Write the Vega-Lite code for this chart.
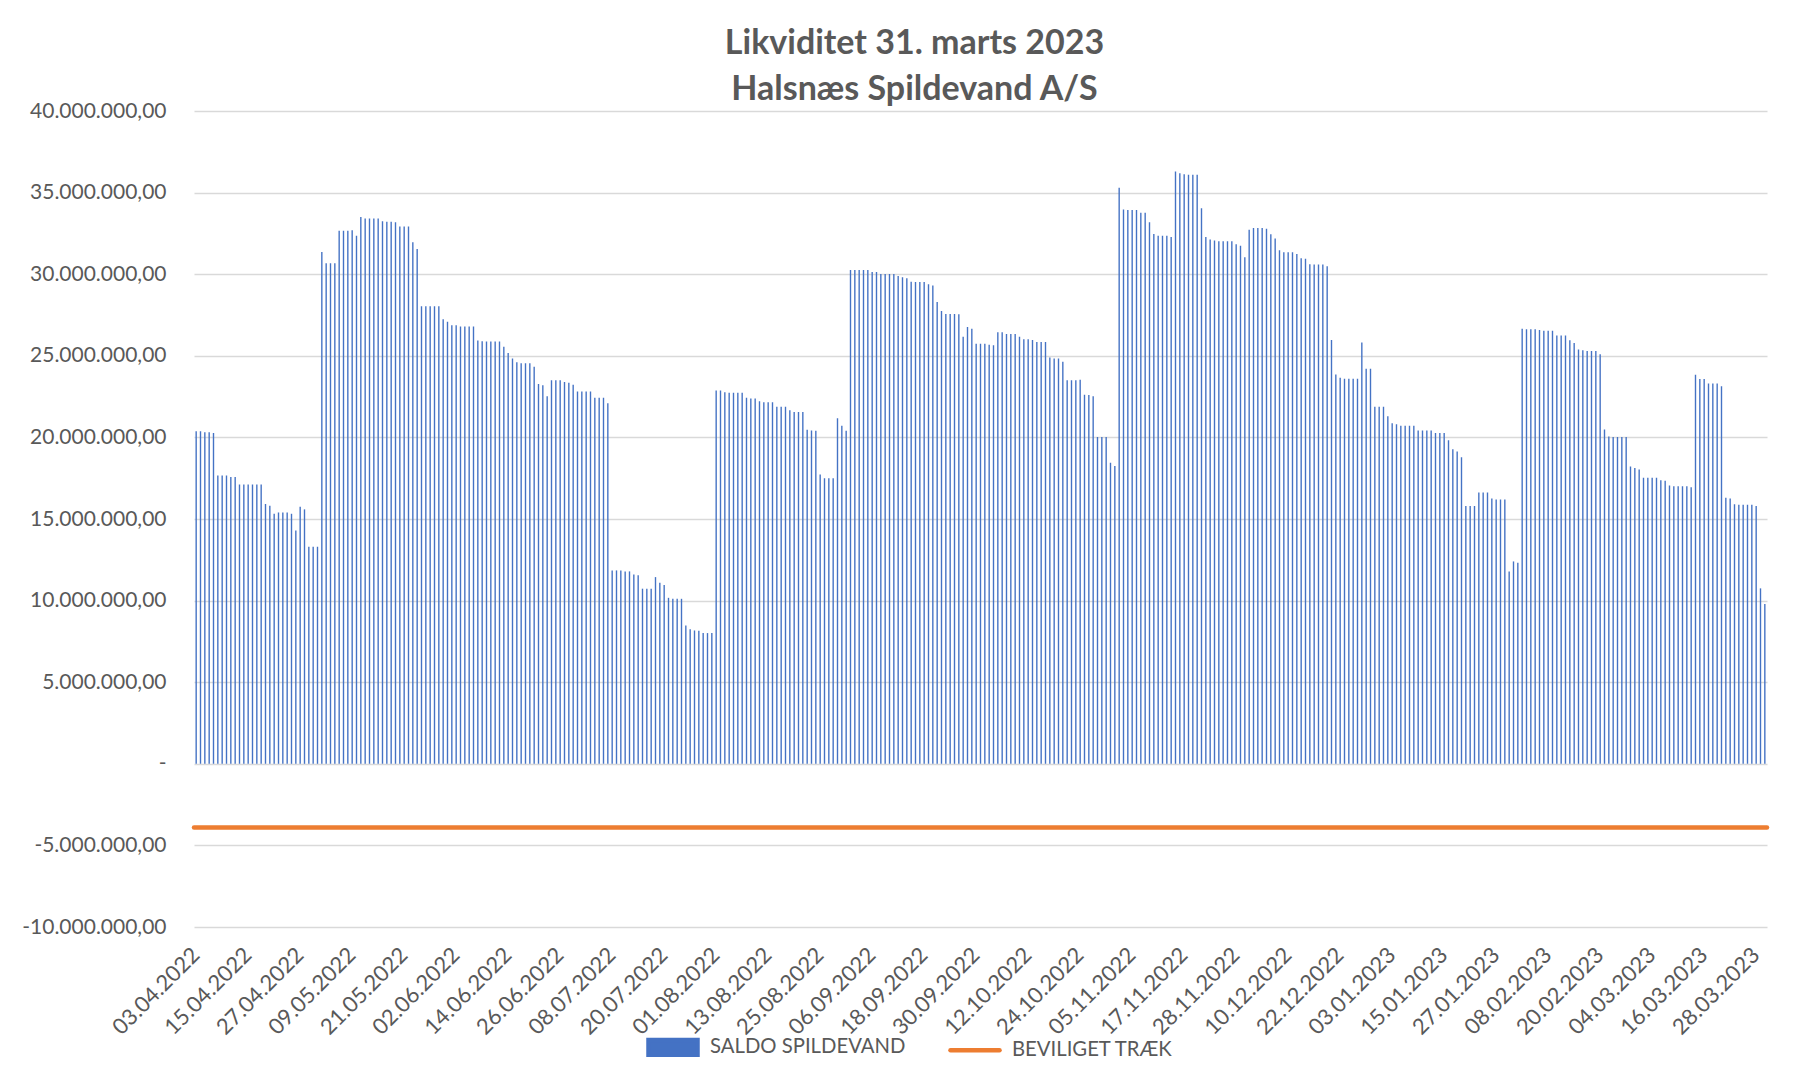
{
"$schema": "https://vega.github.io/schema/vega-lite/v6.json",
"width": 1573, "height": 816,
"autosize": {"type": "none"},
"padding": {"left": 194, "top": 111, "right": 26, "bottom": 154},
"background": "white",
"config": {
  "locale": {"number": {"decimal": ",", "thousands": ".", "grouping": [3], "currency": ["", ""], "minus": "-"}},
  "font": "Lato",
  "view": {"stroke": null},
  "axis": {"labelColor": "#595959", "labelFont": "Lato", "domain": false, "ticks": false, "gridColor": "#D9D9D9", "gridWidth": 1.3, "title": null}
},
"title": {"text": ["Likviditet 31. marts 2023", "Halsnæs Spildevand A/S"], "font": "Lato", "fontSize": 34, "fontWeight": "bold", "color": "#595959", "lineHeight": 46, "anchor": "middle", "frame": "group", "dx": -66, "offset": -7},
"datasets": {
"saldo": [
{"dato":"03.04.2022","saldo":20370000},{"dato":"04.04.2022","saldo":20370000},{"dato":"05.04.2022","saldo":20310000},{"dato":"06.04.2022","saldo":20310000},{"dato":"07.04.2022","saldo":20270000},{"dato":"08.04.2022","saldo":17670000},{"dato":"09.04.2022","saldo":17670000},{"dato":"10.04.2022","saldo":17670000},{"dato":"11.04.2022","saldo":17570000},{"dato":"12.04.2022","saldo":17570000},{"dato":"13.04.2022","saldo":17120000},{"dato":"14.04.2022","saldo":17120000},{"dato":"15.04.2022","saldo":17120000},{"dato":"16.04.2022","saldo":17120000},{"dato":"17.04.2022","saldo":17120000},{"dato":"18.04.2022","saldo":17120000},{"dato":"19.04.2022","saldo":15920000},{"dato":"20.04.2022","saldo":15810000},{"dato":"21.04.2022","saldo":15320000},{"dato":"22.04.2022","saldo":15400000},{"dato":"23.04.2022","saldo":15400000},{"dato":"24.04.2022","saldo":15400000},{"dato":"25.04.2022","saldo":15320000},{"dato":"26.04.2022","saldo":14300000},{"dato":"27.04.2022","saldo":15750000},{"dato":"28.04.2022","saldo":15590000},{"dato":"29.04.2022","saldo":13300000},{"dato":"30.04.2022","saldo":13300000},
{"dato":"01.05.2022","saldo":13300000},{"dato":"02.05.2022","saldo":31360000},{"dato":"03.05.2022","saldo":30670000},{"dato":"04.05.2022","saldo":30670000},{"dato":"05.05.2022","saldo":30670000},{"dato":"06.05.2022","saldo":32670000},{"dato":"07.05.2022","saldo":32670000},{"dato":"08.05.2022","saldo":32670000},{"dato":"09.05.2022","saldo":32690000},{"dato":"10.05.2022","saldo":32360000},{"dato":"11.05.2022","saldo":33510000},{"dato":"12.05.2022","saldo":33410000},{"dato":"13.05.2022","saldo":33410000},{"dato":"14.05.2022","saldo":33410000},{"dato":"15.05.2022","saldo":33410000},{"dato":"16.05.2022","saldo":33240000},{"dato":"17.05.2022","saldo":33220000},{"dato":"18.05.2022","saldo":33220000},{"dato":"19.05.2022","saldo":33180000},{"dato":"20.05.2022","saldo":32920000},{"dato":"21.05.2022","saldo":32920000},{"dato":"22.05.2022","saldo":32920000},{"dato":"23.05.2022","saldo":31960000},{"dato":"24.05.2022","saldo":31550000},{"dato":"25.05.2022","saldo":28030000},{"dato":"26.05.2022","saldo":28030000},{"dato":"27.05.2022","saldo":28030000},{"dato":"28.05.2022","saldo":28030000},{"dato":"29.05.2022","saldo":28030000},{"dato":"30.05.2022","saldo":27240000},{"dato":"31.05.2022","saldo":27090000},
{"dato":"01.06.2022","saldo":26870000},{"dato":"02.06.2022","saldo":26870000},{"dato":"03.06.2022","saldo":26790000},{"dato":"04.06.2022","saldo":26790000},{"dato":"05.06.2022","saldo":26790000},{"dato":"06.06.2022","saldo":26790000},{"dato":"07.06.2022","saldo":25930000},{"dato":"08.06.2022","saldo":25890000},{"dato":"09.06.2022","saldo":25870000},{"dato":"10.06.2022","saldo":25870000},{"dato":"11.06.2022","saldo":25870000},{"dato":"12.06.2022","saldo":25870000},{"dato":"13.06.2022","saldo":25560000},{"dato":"14.06.2022","saldo":25170000},{"dato":"15.06.2022","saldo":24840000},{"dato":"16.06.2022","saldo":24600000},{"dato":"17.06.2022","saldo":24540000},{"dato":"18.06.2022","saldo":24540000},{"dato":"19.06.2022","saldo":24540000},{"dato":"20.06.2022","saldo":24330000},{"dato":"21.06.2022","saldo":23270000},{"dato":"22.06.2022","saldo":23190000},{"dato":"23.06.2022","saldo":22520000},{"dato":"24.06.2022","saldo":23500000},{"dato":"25.06.2022","saldo":23500000},{"dato":"26.06.2022","saldo":23500000},{"dato":"27.06.2022","saldo":23390000},{"dato":"28.06.2022","saldo":23350000},{"dato":"29.06.2022","saldo":23230000},{"dato":"30.06.2022","saldo":22820000},
{"dato":"01.07.2022","saldo":22820000},{"dato":"02.07.2022","saldo":22820000},{"dato":"03.07.2022","saldo":22820000},{"dato":"04.07.2022","saldo":22430000},{"dato":"05.07.2022","saldo":22430000},{"dato":"06.07.2022","saldo":22430000},{"dato":"07.07.2022","saldo":22090000},{"dato":"08.07.2022","saldo":11850000},{"dato":"09.07.2022","saldo":11850000},{"dato":"10.07.2022","saldo":11850000},{"dato":"11.07.2022","saldo":11790000},{"dato":"12.07.2022","saldo":11790000},{"dato":"13.07.2022","saldo":11600000},{"dato":"14.07.2022","saldo":11560000},{"dato":"15.07.2022","saldo":10730000},{"dato":"16.07.2022","saldo":10730000},{"dato":"17.07.2022","saldo":10730000},{"dato":"18.07.2022","saldo":11440000},{"dato":"19.07.2022","saldo":11090000},{"dato":"20.07.2022","saldo":10950000},{"dato":"21.07.2022","saldo":10170000},{"dato":"22.07.2022","saldo":10110000},{"dato":"23.07.2022","saldo":10110000},{"dato":"24.07.2022","saldo":10110000},{"dato":"25.07.2022","saldo":8480000},{"dato":"26.07.2022","saldo":8250000},{"dato":"27.07.2022","saldo":8170000},{"dato":"28.07.2022","saldo":8150000},{"dato":"29.07.2022","saldo":8010000},{"dato":"30.07.2022","saldo":8010000},{"dato":"31.07.2022","saldo":8010000},
{"dato":"01.08.2022","saldo":22880000},{"dato":"02.08.2022","saldo":22880000},{"dato":"03.08.2022","saldo":22760000},{"dato":"04.08.2022","saldo":22740000},{"dato":"05.08.2022","saldo":22740000},{"dato":"06.08.2022","saldo":22740000},{"dato":"07.08.2022","saldo":22740000},{"dato":"08.08.2022","saldo":22430000},{"dato":"09.08.2022","saldo":22390000},{"dato":"10.08.2022","saldo":22390000},{"dato":"11.08.2022","saldo":22210000},{"dato":"12.08.2022","saldo":22150000},{"dato":"13.08.2022","saldo":22150000},{"dato":"14.08.2022","saldo":22150000},{"dato":"15.08.2022","saldo":21880000},{"dato":"16.08.2022","saldo":21880000},{"dato":"17.08.2022","saldo":21880000},{"dato":"18.08.2022","saldo":21660000},{"dato":"19.08.2022","saldo":21560000},{"dato":"20.08.2022","saldo":21560000},{"dato":"21.08.2022","saldo":21560000},{"dato":"22.08.2022","saldo":20470000},{"dato":"23.08.2022","saldo":20430000},{"dato":"24.08.2022","saldo":20410000},{"dato":"25.08.2022","saldo":17730000},{"dato":"26.08.2022","saldo":17490000},{"dato":"27.08.2022","saldo":17490000},{"dato":"28.08.2022","saldo":17490000},{"dato":"29.08.2022","saldo":21170000},{"dato":"30.08.2022","saldo":20720000},{"dato":"31.08.2022","saldo":20410000},
{"dato":"01.09.2022","saldo":30260000},{"dato":"02.09.2022","saldo":30260000},{"dato":"03.09.2022","saldo":30260000},{"dato":"04.09.2022","saldo":30260000},{"dato":"05.09.2022","saldo":30260000},{"dato":"06.09.2022","saldo":30140000},{"dato":"07.09.2022","saldo":30140000},{"dato":"08.09.2022","saldo":30010000},{"dato":"09.09.2022","saldo":30010000},{"dato":"10.09.2022","saldo":30010000},{"dato":"11.09.2022","saldo":30010000},{"dato":"12.09.2022","saldo":29890000},{"dato":"13.09.2022","saldo":29810000},{"dato":"14.09.2022","saldo":29750000},{"dato":"15.09.2022","saldo":29540000},{"dato":"16.09.2022","saldo":29520000},{"dato":"17.09.2022","saldo":29520000},{"dato":"18.09.2022","saldo":29520000},{"dato":"19.09.2022","saldo":29380000},{"dato":"20.09.2022","saldo":29300000},{"dato":"21.09.2022","saldo":28300000},{"dato":"22.09.2022","saldo":27750000},{"dato":"23.09.2022","saldo":27560000},{"dato":"24.09.2022","saldo":27560000},{"dato":"25.09.2022","saldo":27560000},{"dato":"26.09.2022","saldo":27540000},{"dato":"27.09.2022","saldo":26170000},{"dato":"28.09.2022","saldo":26770000},{"dato":"29.09.2022","saldo":26660000},{"dato":"30.09.2022","saldo":25740000},
{"dato":"01.10.2022","saldo":25740000},{"dato":"02.10.2022","saldo":25740000},{"dato":"03.10.2022","saldo":25680000},{"dato":"04.10.2022","saldo":25640000},{"dato":"05.10.2022","saldo":26440000},{"dato":"06.10.2022","saldo":26440000},{"dato":"07.10.2022","saldo":26340000},{"dato":"08.10.2022","saldo":26340000},{"dato":"09.10.2022","saldo":26340000},{"dato":"10.10.2022","saldo":26170000},{"dato":"11.10.2022","saldo":26010000},{"dato":"12.10.2022","saldo":26010000},{"dato":"13.10.2022","saldo":25970000},{"dato":"14.10.2022","saldo":25850000},{"dato":"15.10.2022","saldo":25850000},{"dato":"16.10.2022","saldo":25850000},{"dato":"17.10.2022","saldo":24890000},{"dato":"18.10.2022","saldo":24840000},{"dato":"19.10.2022","saldo":24840000},{"dato":"20.10.2022","saldo":24640000},{"dato":"21.10.2022","saldo":23500000},{"dato":"22.10.2022","saldo":23500000},{"dato":"23.10.2022","saldo":23500000},{"dato":"24.10.2022","saldo":23540000},{"dato":"25.10.2022","saldo":22620000},{"dato":"26.10.2022","saldo":22600000},{"dato":"27.10.2022","saldo":22520000},{"dato":"28.10.2022","saldo":20020000},{"dato":"29.10.2022","saldo":20020000},{"dato":"30.10.2022","saldo":20020000},{"dato":"31.10.2022","saldo":18450000},
{"dato":"01.11.2022","saldo":18240000},{"dato":"02.11.2022","saldo":35290000},{"dato":"03.11.2022","saldo":33960000},{"dato":"04.11.2022","saldo":33940000},{"dato":"05.11.2022","saldo":33940000},{"dato":"06.11.2022","saldo":33940000},{"dato":"07.11.2022","saldo":33770000},{"dato":"08.11.2022","saldo":33770000},{"dato":"09.11.2022","saldo":33180000},{"dato":"10.11.2022","saldo":32470000},{"dato":"11.11.2022","saldo":32360000},{"dato":"12.11.2022","saldo":32360000},{"dato":"13.11.2022","saldo":32360000},{"dato":"14.11.2022","saldo":32280000},{"dato":"15.11.2022","saldo":36290000},{"dato":"16.11.2022","saldo":36190000},{"dato":"17.11.2022","saldo":36120000},{"dato":"18.11.2022","saldo":36100000},{"dato":"19.11.2022","saldo":36100000},{"dato":"20.11.2022","saldo":36100000},{"dato":"20.11.2022 (2)","saldo":34040000},{"dato":"21.11.2022","saldo":32280000},{"dato":"22.11.2022","saldo":32120000},{"dato":"23.11.2022","saldo":32060000},{"dato":"24.11.2022","saldo":32020000},{"dato":"25.11.2022","saldo":32020000},{"dato":"26.11.2022","saldo":32020000},{"dato":"27.11.2022","saldo":32020000},{"dato":"28.11.2022","saldo":31830000},{"dato":"29.11.2022","saldo":31750000},{"dato":"30.11.2022","saldo":31040000},
{"dato":"01.12.2022","saldo":32730000},{"dato":"02.12.2022","saldo":32830000},{"dato":"03.12.2022","saldo":32830000},{"dato":"04.12.2022","saldo":32830000},{"dato":"05.12.2022","saldo":32790000},{"dato":"06.12.2022","saldo":32450000},{"dato":"07.12.2022","saldo":32180000},{"dato":"08.12.2022","saldo":31470000},{"dato":"09.12.2022","saldo":31340000},{"dato":"10.12.2022","saldo":31340000},{"dato":"11.12.2022","saldo":31340000},{"dato":"12.12.2022","saldo":31240000},{"dato":"13.12.2022","saldo":30970000},{"dato":"14.12.2022","saldo":30950000},{"dato":"15.12.2022","saldo":30610000},{"dato":"16.12.2022","saldo":30590000},{"dato":"17.12.2022","saldo":30590000},{"dato":"18.12.2022","saldo":30590000},{"dato":"19.12.2022","saldo":30480000},{"dato":"20.12.2022","saldo":25970000},{"dato":"21.12.2022","saldo":23860000},{"dato":"22.12.2022","saldo":23660000},{"dato":"23.12.2022","saldo":23600000},{"dato":"24.12.2022","saldo":23600000},{"dato":"25.12.2022","saldo":23600000},{"dato":"26.12.2022","saldo":23600000},{"dato":"27.12.2022","saldo":25810000},{"dato":"28.12.2022","saldo":24210000},{"dato":"29.12.2022","saldo":24210000},{"dato":"30.12.2022","saldo":21880000},{"dato":"31.12.2022","saldo":21880000},
{"dato":"01.01.2023","saldo":21880000},{"dato":"02.01.2023","saldo":21300000},{"dato":"03.01.2023","saldo":20860000},{"dato":"04.01.2023","saldo":20800000},{"dato":"05.01.2023","saldo":20720000},{"dato":"06.01.2023","saldo":20720000},{"dato":"07.01.2023","saldo":20720000},{"dato":"08.01.2023","saldo":20720000},{"dato":"09.01.2023","saldo":20430000},{"dato":"10.01.2023","saldo":20430000},{"dato":"11.01.2023","saldo":20430000},{"dato":"12.01.2023","saldo":20430000},{"dato":"13.01.2023","saldo":20270000},{"dato":"14.01.2023","saldo":20270000},{"dato":"15.01.2023","saldo":20270000},{"dato":"16.01.2023","saldo":19820000},{"dato":"17.01.2023","saldo":19270000},{"dato":"18.01.2023","saldo":19140000},{"dato":"19.01.2023","saldo":18780000},{"dato":"20.01.2023","saldo":15790000},{"dato":"21.01.2023","saldo":15790000},{"dato":"22.01.2023","saldo":15790000},{"dato":"23.01.2023","saldo":16630000},{"dato":"24.01.2023","saldo":16630000},{"dato":"25.01.2023","saldo":16630000},{"dato":"26.01.2023","saldo":16260000},{"dato":"27.01.2023","saldo":16200000},{"dato":"28.01.2023","saldo":16200000},{"dato":"29.01.2023","saldo":16200000},{"dato":"30.01.2023","saldo":11790000},{"dato":"31.01.2023","saldo":12400000},
{"dato":"01.02.2023","saldo":12320000},{"dato":"02.02.2023","saldo":26660000},{"dato":"03.02.2023","saldo":26620000},{"dato":"04.02.2023","saldo":26620000},{"dato":"05.02.2023","saldo":26620000},{"dato":"06.02.2023","saldo":26580000},{"dato":"07.02.2023","saldo":26540000},{"dato":"08.02.2023","saldo":26540000},{"dato":"09.02.2023","saldo":26540000},{"dato":"10.02.2023","saldo":26250000},{"dato":"11.02.2023","saldo":26250000},{"dato":"12.02.2023","saldo":26250000},{"dato":"13.02.2023","saldo":25950000},{"dato":"14.02.2023","saldo":25780000},{"dato":"15.02.2023","saldo":25380000},{"dato":"16.02.2023","saldo":25340000},{"dato":"17.02.2023","saldo":25290000},{"dato":"18.02.2023","saldo":25290000},{"dato":"19.02.2023","saldo":25290000},{"dato":"20.02.2023","saldo":25090000},{"dato":"21.02.2023","saldo":20490000},{"dato":"22.02.2023","saldo":20060000},{"dato":"23.02.2023","saldo":20020000},{"dato":"24.02.2023","saldo":20020000},{"dato":"25.02.2023","saldo":20020000},{"dato":"26.02.2023","saldo":20020000},{"dato":"27.02.2023","saldo":18220000},{"dato":"28.02.2023","saldo":18120000},
{"dato":"01.03.2023","saldo":18040000},{"dato":"02.03.2023","saldo":17530000},{"dato":"03.03.2023","saldo":17530000},{"dato":"04.03.2023","saldo":17530000},{"dato":"05.03.2023","saldo":17530000},{"dato":"06.03.2023","saldo":17370000},{"dato":"07.03.2023","saldo":17350000},{"dato":"08.03.2023","saldo":17060000},{"dato":"09.03.2023","saldo":17000000},{"dato":"10.03.2023","saldo":17000000},{"dato":"11.03.2023","saldo":17000000},{"dato":"12.03.2023","saldo":17000000},{"dato":"13.03.2023","saldo":16940000},{"dato":"14.03.2023","saldo":23840000},{"dato":"15.03.2023","saldo":23580000},{"dato":"16.03.2023","saldo":23580000},{"dato":"17.03.2023","saldo":23310000},{"dato":"18.03.2023","saldo":23310000},{"dato":"19.03.2023","saldo":23310000},{"dato":"20.03.2023","saldo":23130000},{"dato":"21.03.2023","saldo":16300000},{"dato":"22.03.2023","saldo":16260000},{"dato":"23.03.2023","saldo":15900000},{"dato":"24.03.2023","saldo":15880000},{"dato":"25.03.2023","saldo":15880000},{"dato":"26.03.2023","saldo":15880000},{"dato":"27.03.2023","saldo":15880000},{"dato":"28.03.2023","saldo":15790000},{"dato":"29.03.2023","saldo":10750000},{"dato":"30.03.2023","saldo":9790000}
],
"traek": [{"serie": "BEVILIGET TRÆK", "saldo": -3900000}]
},
"encoding": {
  "y": {"field": "saldo", "type": "quantitative",
        "scale": {"domain": [-10000000, 40000000], "nice": false},
        "axis": {"values": [-10000000, -5000000, 0, 5000000, 10000000, 15000000, 20000000, 25000000, 30000000, 35000000, 40000000],
                 "format": ",.2f", "labelExpr": "datum.value === 0 ? '-' : datum.label",
                 "labelFontSize": 21, "labelPadding": 28, "grid": true,
                 "encode": {"labels": {"update": {"dx": {"signal": "datum.value === 0 ? -11 : 0"}}}}}}
},
"layer": [
{
 "data": {"name": "saldo"},
 "mark": {"type": "bar"},
 "encoding": {
  "x": {"field": "dato", "type": "ordinal", "sort": null,
        "scale": {"paddingInner": 0.68, "paddingOuter": 0.34},
        "axis": {"values": ["03.04.2022","15.04.2022","27.04.2022","09.05.2022","21.05.2022","02.06.2022","14.06.2022","26.06.2022","08.07.2022","20.07.2022","01.08.2022","13.08.2022","25.08.2022","06.09.2022","18.09.2022","30.09.2022","12.10.2022","24.10.2022","05.11.2022","17.11.2022","28.11.2022","10.12.2022","22.12.2022","03.01.2023","15.01.2023","27.01.2023","08.02.2023","20.02.2023","04.03.2023","16.03.2023","28.03.2023"],
                 "labelAngle": -45, "labelAlign": "right", "labelBaseline": "middle", "labelFontSize": 22, "labelPadding": 24, "labelOverlap": false, "grid": false}},
  "color": {"datum": "SALDO SPILDEVAND", "type": "nominal",
            "scale": {"domain": ["SALDO SPILDEVAND", "BEVILIGET TRÆK"], "range": ["#4472C4", "#ED7D31"]},
            "legend": {"title": null, "orient": "none", "legendX": 452, "legendY": 909, "direction": "horizontal", "padding": 0,
                       "labelFont": "Lato", "labelFontSize": 20.3, "labelColor": "#595959", "labelLimit": 0, "symbolSize": 2401, "labelOffset": 10, "columnPadding": 35,
                       "encode": {"symbols": {"update": {
                          "shape": {"signal": "datum.value === 'BEVILIGET TRÆK' ? 'stroke' : 'M-1,-0.3H1V0.3H-1Z'"},
                          "fill": {"signal": "datum.value === 'BEVILIGET TRÆK' ? 'transparent' : scale('color', datum.value)"},
                          "stroke": {"signal": "datum.value === 'BEVILIGET TRÆK' ? scale('color', datum.value) : 'transparent'"},
                          "strokeWidth": {"value": 4.5},
                          "strokeCap": {"value": "round"},
                          "opacity": {"value": 1}
                       }}}}}
 }
},
{
 "data": {"name": "traek"},
 "mark": {"type": "rule", "strokeWidth": 4.5, "strokeCap": "round"},
 "encoding": {
  "color": {"field": "serie", "type": "nominal", "legend": {"title": null}}
 }
}
]
}
